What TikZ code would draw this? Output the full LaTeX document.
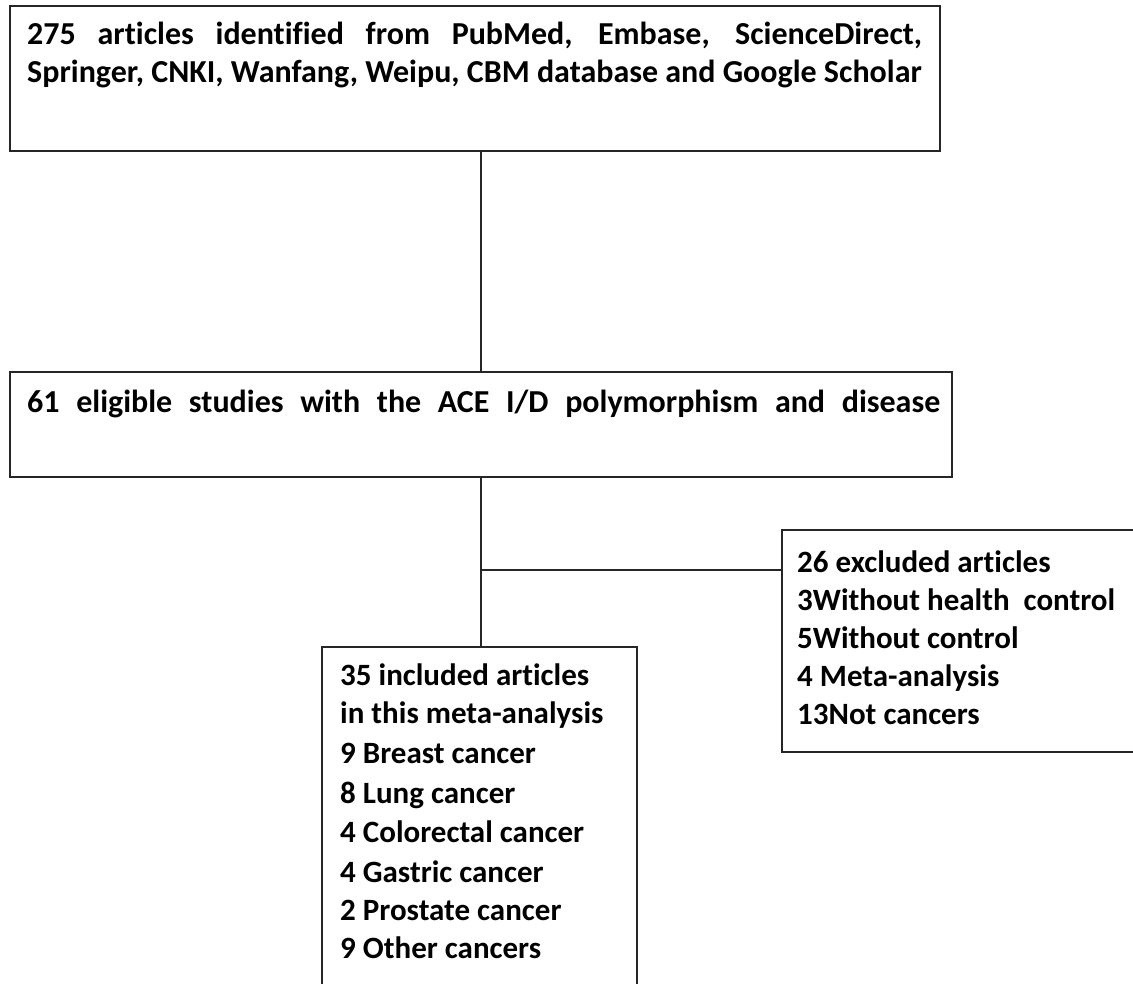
\documentclass[tikz,border=0pt]{standalone}
\usepackage{fontspec}
\setmainfont{Carlito}[Ligatures={NoCommon}]
\begin{document}
\begin{tikzpicture}[x=1pt,y=-1pt,
  boxline/.style={draw=black!85,line width=1.5pt},
  conn/.style={draw=black!85,line width=1.5pt},
  txt/.style={anchor=base west,inner sep=0pt,font=\bfseries\fontsize{32}{38}\selectfont},
  txtb/.style={anchor=base west,inner sep=0pt,font=\bfseries\fontsize{31}{38}\selectfont}]
\useasboundingbox (0,0) rectangle (1133,984);
\begin{scope}
\clip (0,0) rectangle (1133,984);
% boxes
\draw[boxline] (10,6) rectangle (940,151);
\coordinate (b1s) at (481,151);
\draw[boxline] (10,372) rectangle (952,477);
\coordinate (b2n) at (481,372);
\coordinate (b2s) at (481,477);
\draw[boxline] (782,530) rectangle (1145,752);
\coordinate (exw) at (782,570);
\draw[boxline] (322,647) rectangle (637,995);
\coordinate (inn) at (481,647);
\coordinate (junc) at (481,570);
% connectors
\draw[conn] (b1s) -- (b2n);
\draw[conn] (b2s) -- (inn);
\draw[conn] (junc) -- (exw);
\end{scope}
% texts
\node[txt] (t1a) at (27,45) {\makebox[895pt][s]{275 articles identified from PubMed, Embase, ScienceDirect,}};
\node[txt] (t1b) at (27,83) {Springer, CNKI, Wanfang, Weipu, CBM database and Google Scholar};
\node[txt] (t2) at (27,412) {\makebox[913pt][s]{61 eligible studies with the ACE I/D polymorphism and disease}};
\node[txtb] (e1) at (797,572) {26 excluded articles};
\node[txtb] (e2) at (797,610) {3Without health\ \ control};
\node[txtb] (e3) at (797,648) {5Without control};
\node[txtb] (e4) at (797,686) {4 Meta-analysis};
\node[txtb] (e5) at (797,724) {13Not cancers};
\node[txtb] (i1) at (340,685) {35 included articles};
\node[txtb] (i2) at (340,723) {in this meta-analysis};
\node[txtb] (i3) at (340,763) {9 Breast cancer};
\node[txtb] (i4) at (340,803) {8 Lung cancer};
\node[txtb] (i5) at (340,842) {4 Colorectal cancer};
\node[txtb] (i6) at (340,882) {4 Gastric cancer};
\node[txtb] (i7) at (340,920) {2 Prostate cancer};
\node[txtb] (i8) at (340,958) {9 Other cancers};
\end{tikzpicture}
\end{document}
